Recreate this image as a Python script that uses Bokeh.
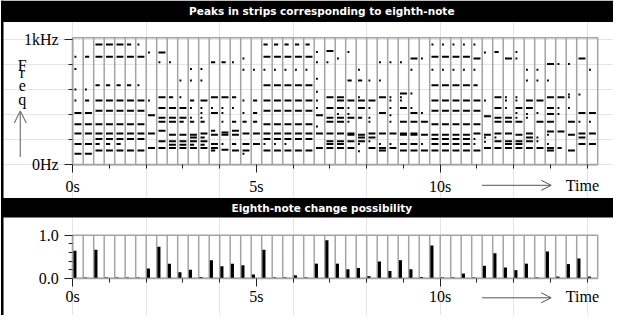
from bokeh.plotting import figure
from bokeh.models import (Range1d, FixedTicker, Label, Arrow, OpenHead, ColumnDataSource,
                          LinearAxis, BoxAnnotation)
from bokeh.embed import file_html
from bokeh.resources import INLINE

# ---------------- data ----------------
strip_seconds = 0.2857          # one eighth-note strip
n_strips = 50
time_ticks = [0, 5, 10]
time_labels = ["0s", "5s", "10s"]
time_minor = [1, 2, 3, 4, 6, 7, 8, 9, 11, 12, 13, 14]
freq_max = 1015
freq_ticks = [0, 1000]
freq_labels = ["0Hz", "1kHz"]
freq_minor = [200, 400, 600, 800]
prob_ticks = [0.0, 1.0]
prob_labels = ["0.0", "1.0"]
prob_minor = [0.2, 0.4, 0.6, 0.8]

# eighth-note change possibility, one value per strip
change_possibility = [
    0.64, 0.02, 0.66, 0.02, 0.02, 0.02, 0.02, 0.23, 0.73, 0.34,
    0.14, 0.20, 0.03, 0.42, 0.28, 0.34, 0.30, 0.09, 0.66, 0.02,
    0.02, 0.07, 0.02, 0.34, 0.88, 0.34, 0.21, 0.24, 0.05, 0.39,
    0.17, 0.42, 0.21, 0.03, 0.76, 0.02, 0.02, 0.11, 0.02, 0.29,
    0.58, 0.25, 0.19, 0.34, 0.02, 0.62, 0.04, 0.33, 0.46, 0.04,
]

# peaks (Hz, length class) in each strip
strip_peaks = [
    [(862, 'S'), (766, 'S'), (602, 'S'), (513, 'S'), (414, 'L'), (323, 'L'), (250, 'L'), (167, 'L'), (89, 'L')],
    [(862, 'M'), (602, 'S'), (513, 'M'), (414, 'L'), (323, 'L'), (250, 'L'), (167, 'L'), (89, 'L')],
    [(961, 'L'), (862, 'L'), (635, 'M'), (513, 'L'), (432, 'L'), (323, 'L'), (250, 'L'), (206, 'L'), (167, 'M'), (115, 'L')],
    [(961, 'L'), (862, 'L'), (635, 'M'), (513, 'L'), (432, 'L'), (323, 'L'), (250, 'L'), (206, 'L'), (167, 'M'), (115, 'L')],
    [(961, 'L'), (862, 'L'), (635, 'M'), (513, 'L'), (432, 'L'), (323, 'L'), (250, 'L'), (206, 'L'), (167, 'M'), (115, 'L')],
    [(961, 'M'), (862, 'L'), (635, 'M'), (513, 'L'), (432, 'L'), (323, 'L'), (250, 'L'), (206, 'L'), (115, 'L')],
    [(961, 'S'), (862, 'L'), (635, 'S'), (513, 'L'), (432, 'L'), (323, 'L'), (250, 'L'), (206, 'L'), (115, 'L')],
    [(896, 'S'), (513, 'S'), (396, 'L'), (250, 'L'), (135, 'L')],
    [(896, 'L'), (818, 'S'), (539, 'L'), (453, 'L'), (375, 'L'), (344, 'L'), (271, 'L'), (188, 'L'), (135, 'L')],
    [(818, 'S'), (539, 'M'), (453, 'L'), (375, 'L'), (344, 'L'), (240, 'L'), (188, 'L'), (161, 'L'), (135, 'L')],
    [(674, 'S'), (539, 'S'), (453, 'L'), (375, 'L'), (344, 'M'), (240, 'L'), (188, 'L'), (161, 'L'), (135, 'L')],
    [(766, 'S'), (674, 'S'), (513, 'M'), (453, 'S'), (375, 'S'), (344, 'M'), (240, 'L'), (219, 'L'), (188, 'L'), (161, 'M'), (135, 'L')],
    [(766, 'S'), (674, 'S'), (513, 'L'), (453, 'S'), (414, 'S'), (375, 'S'), (344, 'M'), (250, 'L'), (219, 'M'), (188, 'L'), (161, 'M'), (135, 'L')],
    [(818, 'M'), (539, 'L'), (453, 'S'), (414, 'L'), (271, 'M'), (240, 'L'), (167, 'L'), (135, 'L'), (115, 'M')],
    [(818, 'M'), (539, 'L'), (453, 'S'), (414, 'S'), (344, 'S'), (258, 'L'), (240, 'L'), (167, 'S'), (120, 'L')],
    [(818, 'S'), (539, 'M'), (453, 'S'), (344, 'M'), (271, 'L'), (240, 'L'), (167, 'M'), (115, 'L')],
    [(849, 'S'), (760, 'S'), (513, 'S'), (414, 'S'), (344, 'M'), (250, 'L'), (167, 'L'), (115, 'L'), (89, 'S')],
    [(760, 'S'), (513, 'M'), (414, 'M'), (344, 'M'), (250, 'L'), (167, 'L')],
    [(961, 'M'), (862, 'L'), (760, 'S'), (635, 'L'), (513, 'L'), (432, 'L'), (323, 'L'), (250, 'L'), (206, 'L'), (167, 'S'), (115, 'L')],
    [(961, 'M'), (862, 'L'), (760, 'S'), (635, 'L'), (513, 'L'), (432, 'L'), (323, 'L'), (250, 'L'), (206, 'L'), (167, 'S'), (115, 'L')],
    [(961, 'M'), (862, 'L'), (760, 'S'), (635, 'L'), (513, 'L'), (432, 'L'), (323, 'L'), (250, 'L'), (206, 'L'), (167, 'S'), (115, 'L')],
    [(961, 'M'), (862, 'L'), (760, 'S'), (635, 'L'), (513, 'L'), (432, 'L'), (323, 'L'), (250, 'L'), (206, 'L'), (115, 'L')],
    [(961, 'M'), (862, 'L'), (760, 'S'), (635, 'L'), (513, 'L'), (432, 'L'), (323, 'L'), (250, 'L'), (206, 'L'), (115, 'L')],
    [(901, 'S'), (818, 'S'), (687, 'S'), (583, 'S'), (513, 'S'), (453, 'S'), (396, 'L'), (305, 'S'), (250, 'L'), (135, 'L')],
    [(909, 'L'), (818, 'S'), (539, 'L'), (453, 'L'), (375, 'L'), (344, 'L'), (250, 'L'), (188, 'L'), (167, 'L'), (135, 'L')],
    [(849, 'S'), (539, 'L'), (513, 'L'), (453, 'L'), (406, 'S'), (375, 'L'), (344, 'L'), (250, 'L'), (188, 'L'), (167, 'L'), (135, 'L')],
    [(901, 'S'), (674, 'M'), (513, 'L'), (453, 'S'), (406, 'S'), (375, 'L'), (344, 'S'), (250, 'L'), (240, 'L'), (188, 'L'), (135, 'L')],
    [(760, 'S'), (674, 'M'), (539, 'S'), (513, 'L'), (453, 'L'), (375, 'M'), (240, 'L'), (219, 'L'), (188, 'L'), (167, 'S'), (109, 'S')],
    [(674, 'S'), (513, 'L'), (453, 'S'), (375, 'S'), (344, 'S'), (250, 'L'), (219, 'L'), (188, 'S'), (135, 'L')],
    [(818, 'S'), (674, 'S'), (539, 'L'), (414, 'L'), (250, 'L'), (167, 'S'), (135, 'L'), (115, 'L')],
    [(818, 'S'), (539, 'S'), (513, 'S'), (453, 'S'), (396, 'S'), (344, 'S'), (250, 'L'), (167, 'S'), (135, 'L')],
    [(818, 'S'), (570, 'L'), (539, 'S'), (513, 'S'), (453, 'L'), (344, 'L'), (250, 'L'), (240, 'L'), (167, 'L'), (115, 'L')],
    [(849, 'L'), (760, 'S'), (570, 'S'), (453, 'S'), (414, 'L'), (344, 'L'), (250, 'L'), (240, 'L'), (167, 'L'), (115, 'L')],
    [(849, 'S'), (414, 'S'), (344, 'L'), (240, 'L'), (167, 'S'), (115, 'L')],
    [(961, 'S'), (862, 'L'), (760, 'S'), (635, 'L'), (513, 'L'), (432, 'L'), (323, 'L'), (240, 'L'), (206, 'L'), (167, 'L'), (115, 'L')],
    [(961, 'S'), (862, 'L'), (760, 'S'), (635, 'L'), (513, 'L'), (432, 'L'), (323, 'L'), (240, 'L'), (206, 'L'), (167, 'L'), (115, 'L')],
    [(961, 'S'), (862, 'L'), (760, 'S'), (635, 'L'), (513, 'L'), (432, 'L'), (323, 'L'), (240, 'L'), (206, 'L'), (167, 'L'), (115, 'L')],
    [(961, 'S'), (862, 'L'), (760, 'S'), (635, 'L'), (513, 'L'), (432, 'L'), (323, 'L'), (240, 'L'), (206, 'L'), (167, 'L'), (115, 'L')],
    [(961, 'S'), (849, 'L'), (760, 'S'), (635, 'M'), (513, 'L'), (432, 'L'), (323, 'L'), (250, 'L'), (206, 'S'), (167, 'S'), (115, 'L')],
    [(896, 'S'), (513, 'S'), (388, 'L'), (240, 'L'), (219, 'S'), (185, 'S'), (135, 'L')],
    [(901, 'M'), (539, 'L'), (453, 'L'), (375, 'L'), (344, 'L'), (250, 'L'), (219, 'S'), (188, 'L'), (135, 'L')],
    [(849, 'L'), (539, 'S'), (513, 'S'), (453, 'S'), (375, 'L'), (344, 'L'), (250, 'L'), (188, 'L'), (167, 'L'), (135, 'L')],
    [(901, 'S'), (849, 'S'), (539, 'S'), (513, 'S'), (453, 'L'), (414, 'S'), (375, 'S'), (344, 'L'), (240, 'L'), (188, 'L'), (167, 'L'), (135, 'L')],
    [(760, 'S'), (674, 'S'), (513, 'L'), (453, 'L'), (406, 'S'), (375, 'S'), (250, 'L'), (219, 'L'), (188, 'L'), (135, 'L')],
    [(760, 'S'), (674, 'S'), (513, 'L'), (414, 'S'), (344, 'L'), (219, 'S'), (188, 'S'), (135, 'L')],
    [(805, 'L'), (674, 'S'), (539, 'L'), (453, 'L'), (406, 'L'), (344, 'L'), (266, 'L'), (240, 'S'), (167, 'S'), (135, 'L'), (115, 'L')],
    [(805, 'S'), (539, 'L'), (453, 'S'), (406, 'S'), (266, 'L'), (135, 'M')],
    [(805, 'S'), (562, 'S'), (539, 'S'), (453, 'S'), (344, 'L'), (240, 'L'), (115, 'L')],
    [(849, 'L'), (562, 'S'), (414, 'L'), (344, 'S'), (250, 'L'), (219, 'L'), (167, 'L')],
    [(760, 'S'), (414, 'L'), (344, 'S'), (250, 'L'), (167, 'L')],
]
dash_fraction = {"L": 0.66, "M": 0.40, "S": 0.18}

# ---------------- layout (canvas pixels) ----------------
W, H = 613, 315
X0_PX, X1_PX = 72.2, 597.2        # time 0 / end of last strip
TOP_Y0_PX, TOP_Y1_PX = 164.3, 37.2  # 0 Hz / freq_max
BOT_Y0_PX, BOT_Y1_PX = 277.8, 234.7  # 0.0 / 1.0

t_end = n_strips * strip_seconds
pps = (X1_PX - X0_PX) / t_end
pph = (TOP_Y0_PX - TOP_Y1_PX) / freq_max
ppp = (BOT_Y0_PX - BOT_Y1_PX) / 1.0


def cx(px):   # canvas x pixel -> seconds
    return (px - X0_PX) / pps


def cy(py):   # canvas y pixel (from top) -> Hz (main y range)
    return (TOP_Y0_PX - py) / pph


p = figure(width=W, height=H, title=None,
           x_range=Range1d(cx(0), cx(W)), y_range=Range1d(cy(H), cy(0)),
           min_border=0, x_axis_location=None, y_axis_location=None,
           toolbar_location=None, output_backend="svg",
           background_fill_color="white", border_fill_color="white",
           outline_line_color=None)
p.extra_y_ranges = {"prob": Range1d(-(H - BOT_Y0_PX) / ppp, BOT_Y0_PX / ppp)}

GRAY = "#a4a4a4"
DARK = "#222222"
SERIF = "Liberation Serif"

# ---------------- derived marks ----------------
strip_starts = [i * strip_seconds for i in range(n_strips)]
inner_bounds = strip_starts[1:]

sx0, sx1, sy = [], [], []
for start, peaks in zip(strip_starts, strip_peaks):
    for f, code in peaks:
        a = start + 0.17 * strip_seconds
        sx0.append(a)
        sx1.append(a + dash_fraction[code] * strip_seconds)
        sy.append(f)
peak_src = ColumnDataSource(dict(x0=sx0, x1=sx1, y=sy))

# top panel
p.segment(x0=inner_bounds, y0=0, x1=inner_bounds, y1=freq_max, line_color=GRAY, line_width=1.5)
p.quad(left=[0], right=[t_end], bottom=[0], top=[freq_max], fill_color=None,
       line_color=GRAY, line_width=1.5)
p.segment(x0="x0", y0="y", x1="x1", y1="y", source=peak_src, line_color="black",
          line_width=2, line_cap="butt")

# bottom panel
p.segment(x0=inner_bounds, y0=0, x1=inner_bounds, y1=1.0, line_color=GRAY, line_width=1.5,
          y_range_name="prob")
p.quad(left=[0], right=[t_end], bottom=[0], top=[1.0], fill_color=None,
       line_color=GRAY, line_width=1.5, y_range_name="prob")
bar_x = [s + 0.06 for s in strip_starts]
p.vbar(x=bar_x, width=0.085, top=change_possibility, bottom=0, fill_color="black",
       line_color=None, y_range_name="prob")


# ---------------- axes ----------------
def style(ax, ticks, labels, minor, standoff):
    ax.ticker = FixedTicker(ticks=ticks, minor_ticks=minor)
    ax.major_label_overrides = dict(zip(ticks, labels))
    ax.axis_line_color = GRAY
    ax.axis_line_width = 1.5
    ax.major_tick_line_color = DARK
    ax.minor_tick_line_color = DARK
    ax.major_tick_out = 8
    ax.major_tick_in = 0
    ax.minor_tick_out = 4
    ax.minor_tick_in = 0
    ax.major_label_text_font = SERIF
    ax.major_label_text_font_size = "16px"
    ax.major_label_text_color = "black"
    ax.major_label_standoff = standoff


xa_top = LinearAxis(fixed_location=0, bounds=(0, t_end))
style(xa_top, time_ticks, time_labels, time_minor, 5)
p.add_layout(xa_top, "below")
ya_top = LinearAxis(fixed_location=0, bounds=(0, freq_max))
style(ya_top, freq_ticks, freq_labels, freq_minor, 6)
p.add_layout(ya_top, "left")

xa_bot = LinearAxis(fixed_location=0, bounds=(0, t_end), y_range_name="prob")
style(xa_bot, time_ticks, time_labels, time_minor, 2)
p.add_layout(xa_bot, "below")
ya_bot = LinearAxis(fixed_location=0, bounds=(0, 1.0), y_range_name="prob")
style(ya_bot, prob_ticks, prob_labels, prob_minor, 6)
p.add_layout(ya_bot, "left")


# ---------------- decorations ----------------
def box(l, r, t, b):
    p.add_layout(BoxAnnotation(left=cx(l), right=cx(r), top=cy(t), bottom=cy(b),
                               fill_color="black", fill_alpha=1, line_color=None,
                               level="underlay"))


box(0.5, 3.0, 0, H)          # left rule
box(1.5, W, 0, 21.5)         # title bar 1
box(1.5, W, 197.6, 217.1)    # title bar 2


def text(x, y, s, size="16px", font=SERIF, color="black", style_="normal",
         align="center", baseline="middle"):
    p.add_layout(Label(x=cx(x), y=cy(y), text=s, text_font=font, text_font_size=size,
                       text_color=color, text_font_style=style_, text_align=align,
                       text_baseline=baseline))


text(321.3, 10.8, "Peaks in strips corresponding to eighth-note", "10.5px", "DejaVu Sans",
     "white", "bold")
text(321.3, 207.3, "Eighth-note change possibility", "10.5px", "DejaVu Sans", "white", "bold")

for ch, yb in zip("Freq", [64.5, 72.4, 85.1, 98.8]):
    text(21.8, yb, ch, baseline="alphabetic")


def arrow(x0, y0, x1, y1, size, color, lw):
    p.add_layout(Arrow(x_start=cx(x0), y_start=cy(y0), x_end=cx(x1), y_end=cy(y1),
                       line_color=color, line_width=lw,
                       end=OpenHead(size=size, line_color=color, line_width=lw)))


arrow(19.8, 156.5, 19.8, 110.5, 12, "#777777", 1.2)
for ya in (184.8, 297.3):
    arrow(481.5, ya, 550.7, ya, 10, "#555555", 1)
text(581.9, 184.8, "Time")
text(581.9, 295.8, "Time")

open("out.html", "w").write(file_html(p, INLINE))
